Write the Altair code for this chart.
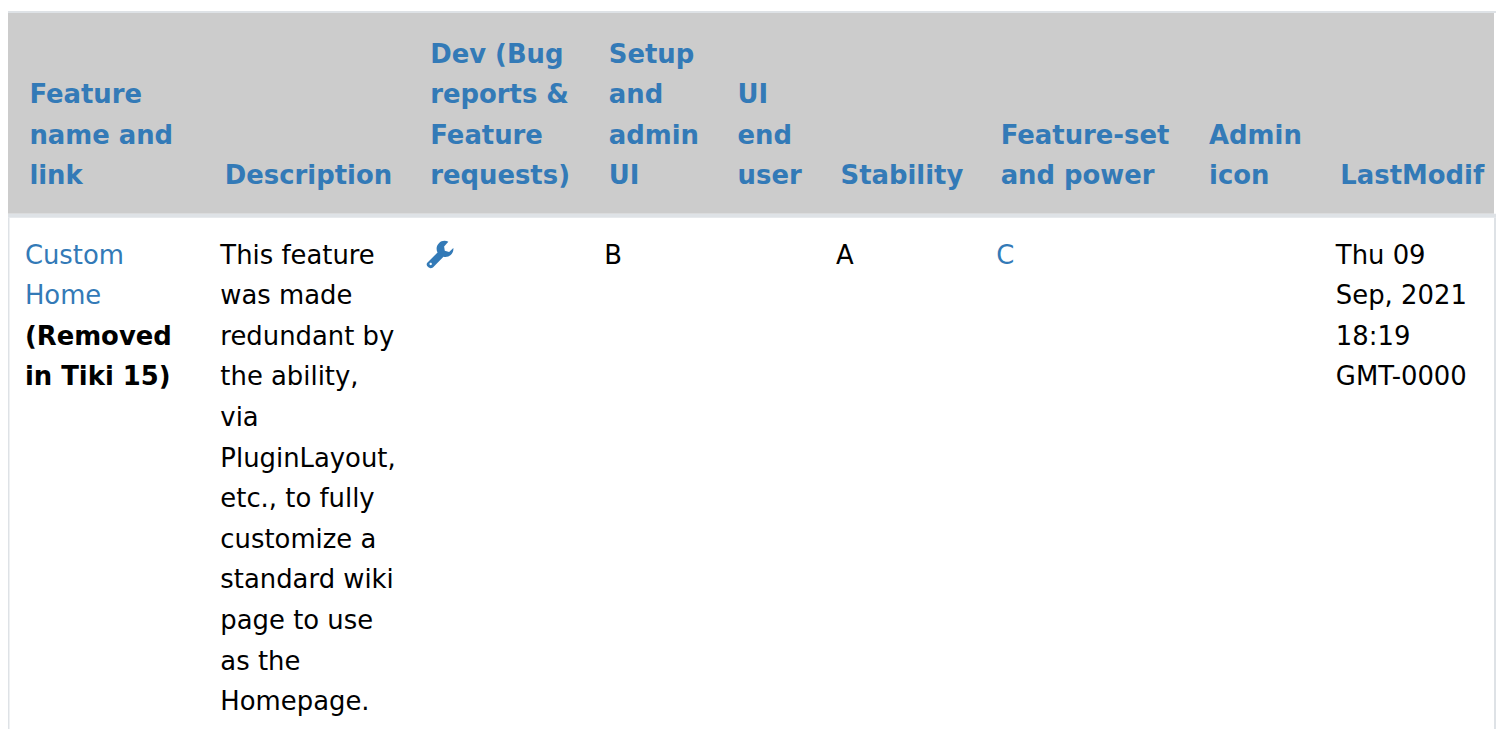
import altair as alt
import pandas as pd

# ---- table content ----
columns = ["Feature name and link", "Description", "Dev", "Setup", "UI", "Stability",
           "Feature-set", "Admin", "LastModif"]
header_lines = [
    ["Feature", "name and", "link"],
    ["Description"],
    ["Dev (Bug", "reports &", "Feature", "requests)"],
    ["Setup", "and", "admin", "UI"],
    ["UI", "end", "user"],
    ["Stability"],
    ["Feature-set", "and power"],
    ["Admin", "icon"],
    ["LastModif"],
]
link_cells = [("Feature name and link", ["Custom", "Home"]), ("Feature-set", ["C"])]
bold_cells = [("Feature name and link", [None, None, "(Removed", "in Tiki 15)"])]
plain_cells = [
    ("Description", ["This feature", "was made", "redundant by", "the ability,", "via",
                     "PluginLayout,", "etc., to fully", "customize a", "standard wiki",
                     "page to use", "as the", "Homepage."]),
    ("Setup", ["B"]),
    ("Stability", ["A"]),
    ("LastModif", ["Thu 09", "Sep, 2021", "18:19", "GMT-0000"]),
]
icon_columns = ["Dev"]

WRENCH = ("M -0.98 0.62 L -0.2 -0.16 A 0.6 0.6 0 0 1 0.62 -0.97 L 0.3 -0.62 L 0.35 -0.3 L 0.68 -0.2 "
          "L 1.0 -0.5 A 0.6 0.6 0 0 1 0.25 0.16 L -0.55 0.97 Q -0.75 1.1 -0.92 0.95 Q -1.1 0.78 -0.98 0.62 Z "
          "M -0.72 0.62 A 0.09 0.09 0 0 0 -0.72 0.8 A 0.09 0.09 0 0 0 -0.72 0.62 Z")

FONT = "DejaVu Sans"
SIZE = 26


def cells(source):
    return pd.DataFrame(
        [{"col": columns.index(c), "line": i, "text": t}
         for c, lines in source for i, t in enumerate(lines) if t]
    )


header_df = pd.DataFrame(
    [{"col": k, "line": i - len(lines) + 1, "text": t}
     for k, lines in enumerate(header_lines) for i, t in enumerate(lines)]
)

x_enc = alt.X("col:Q", axis=None,
              scale=alt.Scale(domain=list(range(len(columns))),
                              range=[17, 213.5, 420, 599.5, 729, 832.5, 993.5, 1203, 1335]))
y_body = alt.Y("line:Q", axis=None, scale=alt.Scale(domain=[0, 11], range=[255, 704]))
y_head = alt.Y("line:Q", axis=None, scale=alt.Scale(domain=[-3, 0], range=[53, 175]))


def text_layer(df, y, color, weight, dx=0):
    return alt.Chart(df).mark_text(
        align="left", baseline="alphabetic", font=FONT, fontSize=SIZE,
        fontWeight=weight, color=color, dx=dx
    ).encode(x=x_enc, y=y, text="text:N")


def band(color, x1, x2, y1, y2):
    return alt.Chart(pd.DataFrame({"a": [0]})).mark_rect(color=color, opacity=1).encode(
        x=alt.value(x1), x2=alt.value(x2), y=alt.value(y1), y2=alt.value(y2)
    )


backgrounds = (
    band("#dee2e6", 0, 1496, 1, 3)
    + band("#cccccc", 0, 1494, 3, 205)
    + band("#dee2e6", 0, 1496, 205, 209)
    + band("#dee2e6", 0, 1.5, 209, 723)
    + band("#dee2e6", 1494, 1496, 209, 723)
)

icon = alt.Chart(pd.DataFrame({"col": [columns.index(c) for c in icon_columns], "line": [0]})).mark_point(
    shape=WRENCH, size=700, filled=True, color="#337ab7", opacity=1, xOffset=14.5, yOffset=-9
).encode(x=x_enc, y=y_body)

head = text_layer(header_df, y_head, "#337ab7", "bold", dx=4.5)
links = text_layer(cells(link_cells), y_body, "#337ab7", "normal")
bold = text_layer(cells(bold_cells), y_body, "#000000", "bold")
plain = text_layer(cells(plain_cells), y_body, "#000000", "normal")

body = alt.layer(links, bold, plain, icon)
chart = (
    alt.layer(backgrounds, head, body)
    .resolve_scale(y="independent")
    .properties(width=1496, height=723, padding=0, autosize=alt.AutoSizeParams(type="none"))
    .configure_view(stroke=None)
)

chart.save("out.html", embed_options={"renderer": "svg", "actions": False})
